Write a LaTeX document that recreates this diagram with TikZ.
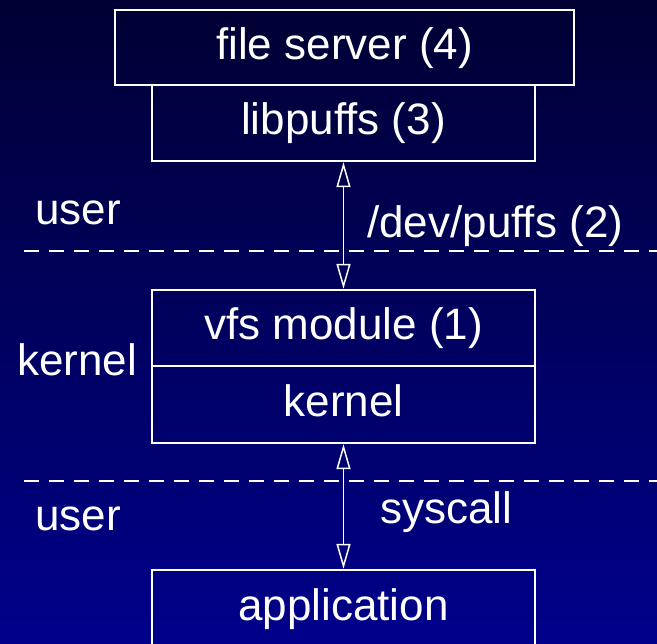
\documentclass[tikz,border=0pt]{standalone}
\usepackage{fontspec}
\setmainfont{Liberation Sans}
\usetikzlibrary{arrows.meta}

\definecolor{bgtop}{HTML}{000033}
\definecolor{bgbot}{HTML}{00008B}

\tikzset{
  layer/.style={draw=white, line width=2.4pt, inner sep=0pt,
    text=white, font=\fontsize{44}{50}\selectfont,
    text height=32pt, text depth=8pt},
  lbl/.style={text=white, font=\fontsize{44}{50}\selectfont, inner sep=0pt, anchor=base west},
  divider/.style={draw=white, line width=2.4pt, dash pattern=on 15pt off 10pt},
  ioarrow/.style={draw=white, line width=1.5pt,
    {Triangle[open, length=25pt, width=14pt, line width=1.5pt]}-{Triangle[open, length=25pt, width=14pt, line width=1.5pt]}}
}

\begin{document}
\begin{tikzpicture}[x=1pt, y=-1pt]
  % background
  \shade[top color=bgtop, bottom color=bgbot] (0,0) rectangle (657,644);
  \useasboundingbox (0,0) rectangle (657,644);

  % userland stack
  \node[layer, minimum width=459pt, minimum height=75pt] (fs)  at (344.5,47.5) {file server (4)};
  \node[layer, minimum width=383pt, minimum height=76pt] (lib) at (343.5,123)  {libpuffs (3)};

  % kernel stack
  \node[layer, minimum width=383pt, minimum height=76pt] (vfs) at (343.5,328)  {vfs module (1)};
  \node[layer, minimum width=383pt, minimum height=77pt] (krn) at (343.5,404.5) {kernel};

  % application
  \node[layer, minimum width=383pt, minimum height=76pt] (app) at (343.5,608)  {application};

  % user / kernel boundaries
  \coordinate (d1a) at (24,251);  \coordinate (d1b) at (657,251);
  \coordinate (d2a) at (24,481);  \coordinate (d2b) at (657,481);
  \draw[divider] (d1a) -- (d1b);
  \draw[divider] (d2a) -- (d2b);

  % domain labels
  \node[lbl] (u1) at (35,225) {user};
  \node[lbl] (k1) at (17,376) {kernel};
  \node[lbl] (u2) at (35,531) {user};

  % communication channels
  \draw[ioarrow] (lib.south) -- (vfs.north);
  \draw[ioarrow] (krn.south) -- (app.north);
  \node[lbl] (dev) at (367,238) {/dev/puffs (2)};
  \node[lbl] (sys) at (380,524) {syscall};
\end{tikzpicture}
\end{document}
